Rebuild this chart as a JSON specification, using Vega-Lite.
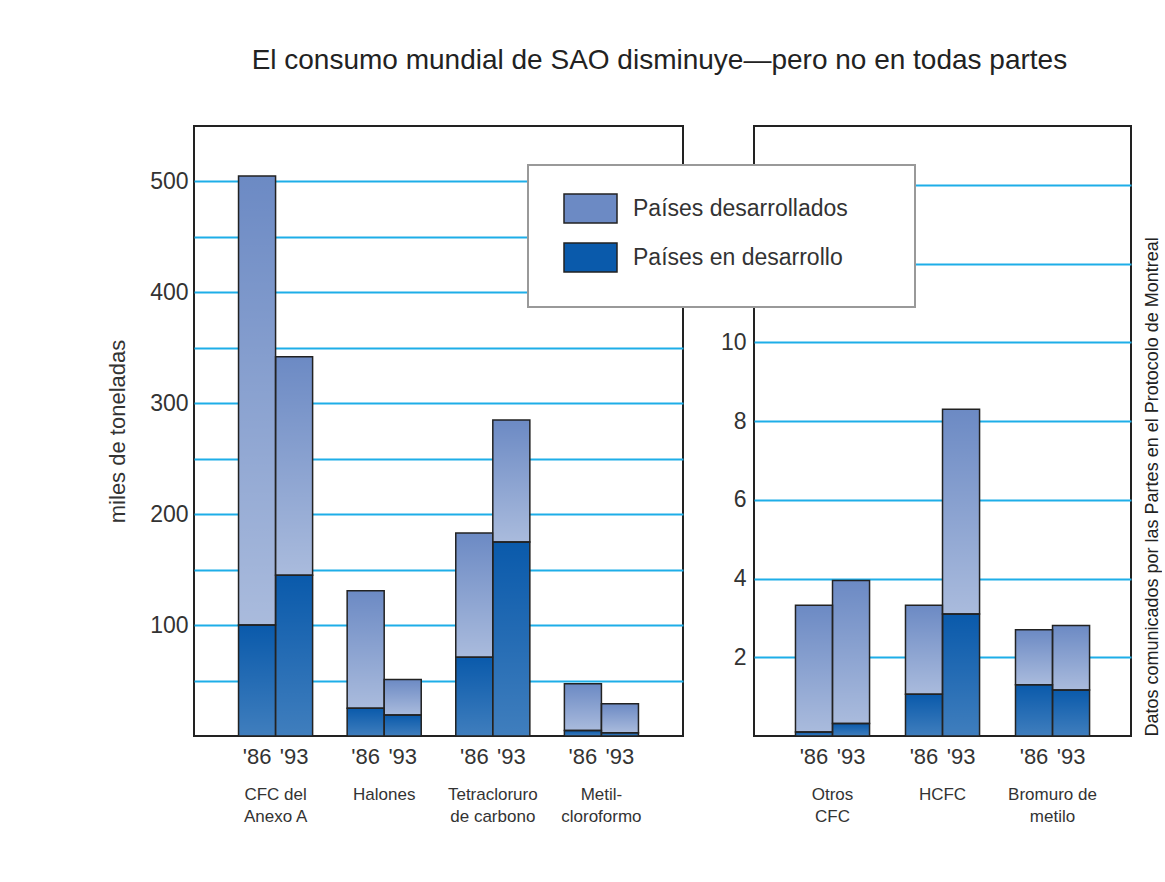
{
  "$schema": "https://vega.github.io/schema/vega-lite/v6.json",
  "background": "white",
  "padding": {"left": 105, "top": 47, "right": 0, "bottom": 5},
  "title": {"text": "El consumo mundial de SAO disminuye—pero no en todas partes", "fontSize": 28, "font": "Liberation Sans", "fontWeight": "normal", "color": "#222", "offset": 50, "dx": 146},
  "config": {
    "font": "Liberation Sans",
    "view": {"stroke": "#222", "strokeWidth": 2},
    "axis": {"domain": false, "ticks": false, "labelFont": "Liberation Sans", "labelFontSize": 23, "labelColor": "#333", "gridColor": "#1eaee8", "gridWidth": 2, "gridOpacity": 1, "titleFont": "Liberation Sans", "titleFontWeight": "normal", "titleColor": "#333"},
    "legend": {"orient": "none", "legendX": 334, "legendY": 39, "fillColor": "white", "strokeColor": "#999", "strokeWidth": 2, "padding": 16, "symbolOffset": 19, "symbolType": "M-1,-0.547L1,-0.547L1,0.547L-1,0.547Z", "symbolSize": 2809, "symbolStrokeColor": "#222", "symbolStrokeWidth": 1.5, "symbolOpacity": 1, "labelFontSize": 23, "labelColor": "#333", "labelFont": "Liberation Sans", "labelOffset": 15, "rowPadding": 4, "labelLimit": 500, "titleOrient": "bottom", "titleFontSize": 10, "titlePadding": 6}
  },
  "datasets": {
    "left": [
      {"category": "CFC del Anexo A", "year": "'86", "type": "Países en desarrollo", "value": 100},
      {"category": "CFC del Anexo A", "year": "'86", "type": "Países desarrollados", "value": 405},
      {"category": "CFC del Anexo A", "year": "'93", "type": "Países en desarrollo", "value": 145},
      {"category": "CFC del Anexo A", "year": "'93", "type": "Países desarrollados", "value": 197},
      {"category": "Halones", "year": "'86", "type": "Países en desarrollo", "value": 25},
      {"category": "Halones", "year": "'86", "type": "Países desarrollados", "value": 106},
      {"category": "Halones", "year": "'93", "type": "Países en desarrollo", "value": 19},
      {"category": "Halones", "year": "'93", "type": "Países desarrollados", "value": 32},
      {"category": "Tetracloruro de carbono", "year": "'86", "type": "Países en desarrollo", "value": 71},
      {"category": "Tetracloruro de carbono", "year": "'86", "type": "Países desarrollados", "value": 112},
      {"category": "Tetracloruro de carbono", "year": "'93", "type": "Países en desarrollo", "value": 175},
      {"category": "Tetracloruro de carbono", "year": "'93", "type": "Países desarrollados", "value": 110},
      {"category": "Metilcloroformo", "year": "'86", "type": "Países en desarrollo", "value": 5},
      {"category": "Metilcloroformo", "year": "'86", "type": "Países desarrollados", "value": 42},
      {"category": "Metilcloroformo", "year": "'93", "type": "Países en desarrollo", "value": 3},
      {"category": "Metilcloroformo", "year": "'93", "type": "Países desarrollados", "value": 26}
    ],
    "right": [
      {"category": "Otros CFC", "year": "'86", "type": "Países en desarrollo", "value": 0.1},
      {"category": "Otros CFC", "year": "'86", "type": "Países desarrollados", "value": 3.22},
      {"category": "Otros CFC", "year": "'93", "type": "Países en desarrollo", "value": 0.32},
      {"category": "Otros CFC", "year": "'93", "type": "Países desarrollados", "value": 3.63},
      {"category": "HCFC", "year": "'86", "type": "Países en desarrollo", "value": 1.06},
      {"category": "HCFC", "year": "'86", "type": "Países desarrollados", "value": 2.26},
      {"category": "HCFC", "year": "'93", "type": "Países en desarrollo", "value": 3.1},
      {"category": "HCFC", "year": "'93", "type": "Países desarrollados", "value": 5.2},
      {"category": "Bromuro de metilo", "year": "'86", "type": "Países en desarrollo", "value": 1.3},
      {"category": "Bromuro de metilo", "year": "'86", "type": "Países desarrollados", "value": 1.4},
      {"category": "Bromuro de metilo", "year": "'93", "type": "Países en desarrollo", "value": 1.17},
      {"category": "Bromuro de metilo", "year": "'93", "type": "Países desarrollados", "value": 1.64}
    ]
  },
  "spacing": 35,
  "hconcat": [
    {
      "width": 489,
      "height": 610,
      "data": {"name": "left"},
      "transform": [{"stack": "value", "groupby": ["category", "year"], "sort": [{"field": "type", "order": "descending"}], "as": ["v0", "v1"]}],
      "encoding": {
        "x": {"field": "category", "type": "nominal", "sort": ["CFC del Anexo A", "Halones", "Tetracloruro de carbono", "Metilcloroformo"], "scale": {"paddingInner": 0.318, "paddingOuter": 0.41}, "axis": {"title": null, "labelAngle": 0, "labelPadding": 50, "labelFontSize": 17, "labelBaseline": "top", "labelLineHeight": 22, "labelColor": "#333", "labelExpr": "datum.value == 'CFC del Anexo A' ? ['CFC del', 'Anexo A'] : datum.value == 'Tetracloruro de carbono' ? ['Tetracloruro', 'de carbono'] : datum.value == 'Metilcloroformo' ? ['Metil-', 'cloroformo'] : datum.label"}},
        "xOffset": {"field": "year", "type": "nominal", "scale": {"paddingInner": 0, "paddingOuter": 0}}
      },
      "layer": [
        {
          "mark": {"type": "bar", "strokeWidth": 0},
          "encoding": {
            "y": {"field": "v1", "type": "quantitative", "scale": {"domain": [0, 550], "nice": false}, "axis": {"values": [50, 100, 150, 200, 250, 300, 350, 400, 450, 500], "labelExpr": "datum.value % 100 == 0 ? datum.label : ''", "title": "miles de toneladas", "titleFontSize": 22, "titlePadding": 20, "labelPadding": 6}},
            "y2": {"field": "v0"},
            "color": {"field": "type", "type": "nominal", "scale": {"domain": ["Países desarrollados", "Países en desarrollo"], "range": ["#6c8ac4", "#0a5aab"]}, "legend": {"title": "\u00a0", "labelExpr": "datum.label + '\u2800\u2800\u2800'"}}
          }
        },
        {
          "transform": [{"filter": "datum.type == 'Países desarrollados'"}],
          "mark": {"type": "bar", "stroke": "#222", "strokeWidth": 1.5, "fill": {"gradient": "linear", "x1": 0, "y1": 0, "x2": 0, "y2": 1, "stops": [{"offset": 0, "color": "rgba(255,255,255,0)"}, {"offset": 1, "color": "rgba(255,255,255,0.42)"}]}},
          "encoding": {"y": {"field": "v1", "type": "quantitative"}, "y2": {"field": "v0"}}
        },
        {
          "transform": [{"filter": "datum.type == 'Países en desarrollo'"}],
          "mark": {"type": "bar", "stroke": "#222", "strokeWidth": 1.5, "fill": {"gradient": "linear", "x1": 0, "y1": 0, "x2": 0, "y2": 1, "stops": [{"offset": 0, "color": "rgba(255,255,255,0)"}, {"offset": 1, "color": "rgba(255,255,255,0.22)"}]}},
          "encoding": {"y": {"field": "v1", "type": "quantitative"}, "y2": {"field": "v0"}}
        },
        {
          "transform": [{"filter": "datum.type == 'Países desarrollados'"}],
          "mark": {"type": "text", "dy": 21, "fontSize": 22, "color": "#333", "baseline": "middle"},
          "encoding": {
            "y": {"datum": 0},
            "text": {"field": "year"}
          }
        }
      ]
    },
    {
      "width": 377,
      "height": 610,
      "data": {"name": "right"},
      "transform": [{"stack": "value", "groupby": ["category", "year"], "sort": [{"field": "type", "order": "descending"}], "as": ["v0", "v1"]}],
      "resolve": {"axis": {"y": "independent"}},
      "encoding": {
        "x": {"field": "category", "type": "nominal", "sort": ["Otros CFC", "HCFC", "Bromuro de metilo"], "scale": {"paddingInner": 0.327, "paddingOuter": 0.377}, "axis": {"title": null, "labelAngle": 0, "labelPadding": 50, "labelFontSize": 17, "labelBaseline": "top", "labelLineHeight": 22, "labelColor": "#333", "labelExpr": "datum.value == 'Otros CFC' ? ['Otros', 'CFC'] : datum.value == 'Bromuro de metilo' ? ['Bromuro de', 'metilo'] : datum.label"}},
        "xOffset": {"field": "year", "type": "nominal", "scale": {"paddingInner": 0, "paddingOuter": 0}}
      },
      "layer": [
        {
          "mark": {"type": "bar", "strokeWidth": 0},
          "encoding": {
            "y": {"field": "v1", "type": "quantitative", "scale": {"domain": [0, 15.5], "nice": false}, "axis": {"values": [2, 4, 6, 8, 10, 12, 14], "labelExpr": "datum.value <= 10 ? datum.label : ''", "title": null, "labelPadding": 8}},
            "y2": {"field": "v0"},
            "color": {"field": "type", "type": "nominal", "legend": {"title": "\u00a0", "labelExpr": "datum.label + '\u2800\u2800\u2800'"}}
          }
        },
        {
          "transform": [{"filter": "datum.type == 'Países desarrollados'"}],
          "mark": {"type": "bar", "stroke": "#222", "strokeWidth": 1.5, "fill": {"gradient": "linear", "x1": 0, "y1": 0, "x2": 0, "y2": 1, "stops": [{"offset": 0, "color": "rgba(255,255,255,0)"}, {"offset": 1, "color": "rgba(255,255,255,0.42)"}]}},
          "encoding": {"y": {"field": "v1", "type": "quantitative", "axis": null}, "y2": {"field": "v0"}}
        },
        {
          "transform": [{"filter": "datum.type == 'Países en desarrollo'"}],
          "mark": {"type": "bar", "stroke": "#222", "strokeWidth": 1.5, "fill": {"gradient": "linear", "x1": 0, "y1": 0, "x2": 0, "y2": 1, "stops": [{"offset": 0, "color": "rgba(255,255,255,0)"}, {"offset": 1, "color": "rgba(255,255,255,0.22)"}]}},
          "encoding": {"y": {"field": "v1", "type": "quantitative", "axis": null}, "y2": {"field": "v0"}}
        },
        {
          "transform": [{"filter": "datum.type == 'Países desarrollados'"}],
          "mark": {"type": "text", "dy": 21, "fontSize": 22, "color": "#333", "baseline": "middle"},
          "encoding": {
            "y": {"datum": 0, "axis": {"orient": "right", "labels": false, "grid": false, "ticks": false, "domain": false, "title": "Datos comunicados por las Partes en el Protocolo de Montreal", "titleFontSize": 18, "titleAngle": 270, "titleAnchor": "start", "titlePadding": 30, "titleColor": "#222"}},
            "text": {"field": "year"}
          }
        }
      ]
    }
  ]
}
